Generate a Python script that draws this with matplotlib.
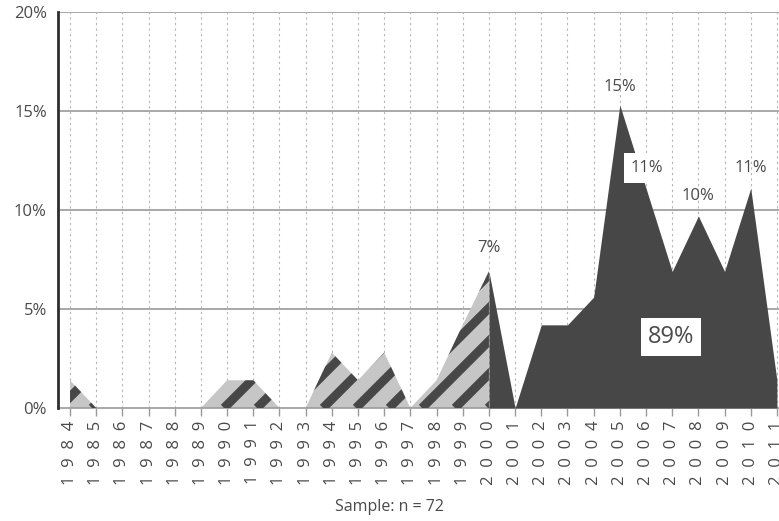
import numpy as np
import matplotlib
matplotlib.use("Agg")
import matplotlib.pyplot as plt
from matplotlib.patches import Polygon
from matplotlib.collections import LineCollection
from matplotlib.transforms import IdentityTransform

plt.rcParams['font.family'] = ['Open Sans', 'DejaVu Sans']

# share of sample per year (%), n = 72
years = list(range(1984, 2012))
share = [1.4, 0, 0, 0, 0, 0, 1.4, 1.4, 0, 0, 2.8, 1.4, 2.8, 0, 1.4, 4.2, 6.9,
         0, 4.2, 4.2, 5.6, 15.3, 11.1, 6.9, 9.7, 6.9, 11.1, 1.4]
split_year = 2000

# point labels
lab_years = [2000, 2005, 2006, 2008, 2010]
lab_text = ['7%', '15%', '11%', '10%', '11%']
lab_y = [8.1, 16.2, 12.1, 10.7, 12.1]

yticks = [0, 5, 10, 15, 20]
ytick_labels = ['0%', '5%', '10%', '15%', '20%']

GRAY_TXT = '#4a4a4a'
DARK = '#474747'
LIGHT = '#c6c6c6'

fig = plt.figure(figsize=(7.79, 5.21), dpi=100)
ax = fig.add_axes([58 / 779, 113 / 521, 1 - 58 / 779, 396 / 521])

yrs = np.array(years)
vals = np.array(share)
early = yrs <= split_year
late = yrs >= split_year

# light hatched area (up to 2000)
ex, ev = yrs[early], vals[early]
verts = [(ex[0], 0)] + list(zip(ex, ev)) + [(ex[-1], 0)]
poly = Polygon(verts, closed=True, facecolor=LIGHT, edgecolor='none', zorder=2)
ax.add_patch(poly)

# diagonal stripes in pixel space, clipped to the light area
base = 113
segs = []
for c in range(26 - 33 * 20, 800, 33):
    segs.append([(c, base), (c + 420, base + 420)])
lc = LineCollection(segs, colors=DARK, linewidths=6.4,
                    transform=IdentityTransform(), zorder=3)
ax.add_collection(lc)
lc.set_clip_path(poly)

# dark area (2000 on)
ax.fill_between(yrs[late], 0, vals[late], color=DARK, lw=0, zorder=4)

ax.set_xlim(1983.54, 2011.08)
ax.set_ylim(0, 20)

# grid
for y in yticks[1:]:
    ax.axhline(y, color='#9a9a9a', lw=1.2, zorder=1)
for x in years:
    ax.axvline(x, color='#b5b5b5', lw=0.8, ls=(0, (2, 3)), zorder=1)

ax.set_yticks(yticks)
ax.set_yticklabels(ytick_labels, fontsize=12, color=GRAY_TXT)
ax.tick_params(axis='y', length=0, pad=8)

ax.set_xticks(years)
ax.set_xticklabels(['  '.join(str(y)) for y in years], rotation=90,
                   fontsize=12, color=GRAY_TXT, va='top')
ax.tick_params(axis='x', length=6, color='#9a9a9a', width=1, pad=3)

for s in ['top', 'right']:
    ax.spines[s].set_visible(False)
ax.spines['left'].set_color('#2e2e2e')
ax.spines['left'].set_linewidth(2)
ax.spines['left'].set_zorder(6)
ax.spines['bottom'].set_color('#9a9a9a')
ax.spines['bottom'].set_linewidth(1.2)

for x, t, y in zip(lab_years, lab_text, lab_y):
    if x == 2006:
        ax.text(x + 0.05, y, t, ha='center', va='center', fontsize=12,
                color=GRAY_TXT, zorder=7,
                bbox=dict(facecolor='white', edgecolor='none', pad=5))
    else:
        ax.text(x, y, t, ha='center', va='center', fontsize=12,
                color=GRAY_TXT, zorder=7)

ax.text(2006.95, 3.6, '89%', ha='center', va='center', fontsize=17,
        color=GRAY_TXT, zorder=7,
        bbox=dict(facecolor='white', edgecolor='none', pad=5))

fig.text(0.5, 14 / 521, 'Sample: n = 72', ha='center', va='center',
         fontsize=11.5, color=GRAY_TXT)

fig.savefig('out.png', dpi=100)
